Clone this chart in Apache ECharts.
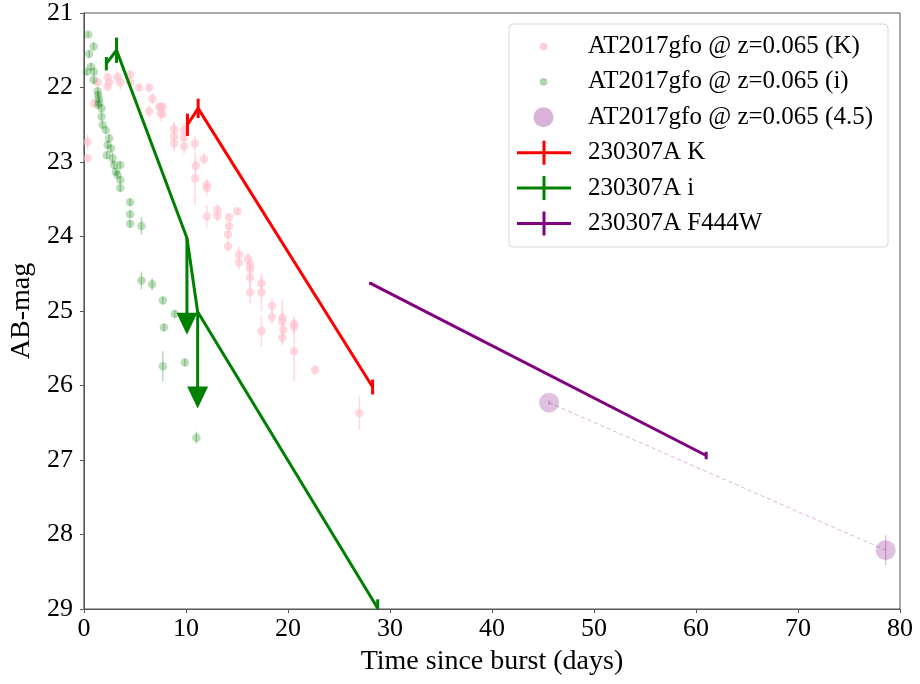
<!DOCTYPE html>
<html><head><meta charset="utf-8">
<script src="https://cdn.jsdelivr.net/npm/echarts@6/dist/echarts.min.js"></script>
<style>html,body{margin:0;padding:0;background:#fff}#c{width:920px;height:684px}</style>
</head><body><div id="c"></div>
<script>
// ---------- data ----------
const xTicks = [0, 10, 20, 30, 40, 50, 60, 70, 80];
const yTicks = [21, 22, 23, 24, 25, 26, 27, 28, 29];

// AT2017gfo @ z=0.065 (K)
const kDays = [0.36,0.36,1.0,1.34,2.32,2.48,2.32,3.29,3.56,4.53,4.53,5.42,6.40,6.72,6.40,7.38,7.54,7.70,7.54,7.70,8.85,8.85,8.85,9.82,9.82,9.82,10.9,10.97,10.9,11.78,12.05,12.05,12.05,13.09,13.09,14.23,14.23,14.13,14.13,15.04,15.2,15.2,16.09,16.29,16.29,16.29,16.29,17.4,17.4,17.4,18.44,18.44,19.45,19.45,19.55,19.45,20.6,20.6,20.6,22.65,27.0];
const kMag  = [22.73,22.95,22.21,21.93,21.86,21.93,21.99,21.86,21.93,21.83,21.93,22.0,22.0,22.15,22.32,22.26,22.26,22.26,22.35,22.36,22.56,22.66,22.75,22.57,22.67,22.79,22.75,23.05,23.22,22.96,23.31,23.35,23.73,23.64,23.72,23.74,23.86,23.97,24.13,23.66,24.24,24.35,24.30,24.38,24.44,24.55,24.75,24.63,24.75,25.27,24.93,25.08,25.09,25.14,25.25,25.36,25.17,25.21,25.54,25.79,26.37];
const kErr  = [0.1,0.05,0.05,0.05,0.05,0.05,0.05,0.08,0.1,0.05,0.05,0.05,0.05,0.08,0.08,0.05,0.05,0.05,0.1,0.05,0.08,0.2,0.05,0.1,0.05,0.1,0.1,0.1,0.35,0.08,0.08,0.1,0.15,0.08,0.08,0.05,0.05,0.08,0.08,0.05,0.1,0.1,0.08,0.08,0.1,0.15,0.15,0.1,0.25,0.2,0.1,0.1,0.1,0.3,0.1,0.1,0.1,0.1,0.4,0.07,0.22];

// AT2017gfo @ z=0.065 (i)
const iDays = [0.42,0.95,0.52,0.69,0.29,0.99,0.95,1.35,1.4,1.45,1.5,1.4,1.73,1.73,1.83,2.15,2.48,2.32,2.64,2.25,2.81,2.97,3.56,3.13,3.29,3.56,3.56,4.53,4.53,4.53,5.64,5.64,6.69,7.74,8.91,7.84,7.74,9.89,11.03];
const iMag  = [21.29,21.45,21.55,21.72,21.79,21.79,21.9,22.05,22.1,22.15,22.2,22.23,22.28,22.39,22.5,22.57,22.68,22.77,22.82,22.91,22.95,23.04,23.04,23.13,23.17,23.24,23.35,23.54,23.70,23.83,23.86,24.59,24.64,24.86,25.04,25.22,25.74,25.69,26.70];
const iErr  = [0.03,0.05,0.05,0.05,0.04,0.05,0.05,0.05,0.05,0.05,0.05,0.05,0.05,0.05,0.05,0.05,0.05,0.05,0.05,0.05,0.08,0.05,0.05,0.05,0.05,0.05,0.05,0.05,0.05,0.05,0.12,0.12,0.08,0.05,0.05,0.05,0.2,0.05,0.08];

// AT2017gfo @ z=0.065 (4.5)
const f45Days = [45.6, 78.6];
const f45Mag  = [26.23, 28.21];
const f45Err  = [0.03, 0.2];

// 230307A K
const grbKDays = [10.15, 11.2, 28.3];
const grbKMag  = [22.5, 22.28, 26.02];
const grbKErr  = [0.15, 0.13, 0.1];

// 230307A i (limits: arrow length in mag, 0 = detection)
const grbIDays  = [2.2, 3.2, 10.1, 11.15, 28.8];
const grbIMag   = [21.68, 21.5, 24.02, 25.01, 28.99];
const grbIErr   = [0.09, 0.17, 0, 0, 0.12];
const grbILimit = [0, 0, 1.15, 1.15, 0];

// 230307A F444W
const grbFDays = [28.1, 61.0];
const grbFMag  = [24.63, 26.94];
const grbFErr  = [0.02, 0.05];

const seriesNames = ['AT2017gfo @ z=0.065 (K)','AT2017gfo @ z=0.065 (i)','AT2017gfo @ z=0.065 (4.5)','230307A K','230307A i','230307A F444W'];

// ---------- helpers ----------
const FONT = "'Liberation Serif','DejaVu Serif',serif";
function zip3(a,b,c){ return a.map((v,i)=>[v,b[i],c[i]]); }

function errBarSeries(name, data, color, width) {
  return {
    type: 'custom', name: name, clip: true, silent: true, z: 3,
    data: data,
    renderItem: function (params, api) {
      const x = api.value(0), y = api.value(1), e = api.value(2);
      if (!e) return null;
      const p0 = api.coord([x, y - e]), p1 = api.coord([x, y + e]);
      return { type: 'line', shape: { x1: p0[0], y1: p0[1], x2: p1[0], y2: p1[1] },
               style: { stroke: color, lineWidth: width } };
    }
  };
}

function limitSeries(name, data, color) {
  return {
    type: 'custom', name: name, clip: true, silent: true, z: 4,
    data: data,
    renderItem: function (params, api) {
      const x = api.value(0), y = api.value(1), len = api.value(2);
      if (!len) return null;
      const p0 = api.coord([x, y]), p1 = api.coord([x, y + len]);
      return { type: 'group', children: [
        { type: 'line', shape: { x1: p0[0], y1: p0[1], x2: p1[0], y2: p1[1] }, style: { stroke: color, lineWidth: 3 } },
        { type: 'polygon', shape: { points: [[p1[0]-10.5, p1[1]-11], [p1[0]+10.5, p1[1]-11], [p1[0], p1[1]+11]] }, style: { fill: color } }
      ]};
    }
  };
}

// ---------- legend (graphic) ----------
const legX = 509, legY = 24, legW = 379, legH = 223, rowY0 = 46.5, rowStep = 35.4;
const legChildren = [{ type: 'rect', shape: { x: legX, y: legY, width: legW, height: legH, r: 4 },
  style: { fill: 'rgba(255,255,255,0.85)', stroke: '#d6d6d6', lineWidth: 1 } }];
const legMarks = [
  { kind: 'dot', r: 3.8, color: 'rgba(255,192,203,0.8)' },
  { kind: 'dot', r: 3.8, color: 'rgba(0,128,0,0.32)' },
  { kind: 'dot', r: 10, color: 'rgba(128,0,128,0.3)' },
  { kind: 'cross', color: 'red' },
  { kind: 'cross', color: 'green' },
  { kind: 'cross', color: 'purple' }
];
seriesNames.forEach((nm, i) => {
  const cy = rowY0 + i * rowStep, m = legMarks[i];
  if (m.kind === 'dot') {
    legChildren.push({ type: 'circle', shape: { cx: 543.5, cy: cy, r: m.r }, style: { fill: m.color } });
  } else {
    legChildren.push({ type: 'line', shape: { x1: 517, y1: cy, x2: 571, y2: cy }, style: { stroke: m.color, lineWidth: 3 } });
    legChildren.push({ type: 'line', shape: { x1: 544, y1: cy - 12, x2: 544, y2: cy + 12 }, style: { stroke: m.color, lineWidth: 3 } });
  }
  legChildren.push({ type: 'text', x: 588, y: cy, style: { text: nm, fill: '#000', font: '25px ' + FONT, verticalAlign: 'middle', align: 'left' } });
});

// ---------- chart ----------
const chart = echarts.init(document.getElementById('c'), null, { renderer: 'canvas' });
const axisCommon = {
  axisLine: { show: true, onZero: false, lineStyle: { color: '#555', width: 1 } },
  axisTick: { show: true, inside: false, length: 4, lineStyle: { color: '#555' } },
  splitLine: { show: false },
  axisLabel: { color: '#000', fontFamily: FONT, fontSize: 26 },
  nameTextStyle: { color: '#000', fontFamily: FONT, fontSize: 28 }
};
chart.setOption({
  animation: false,
  backgroundColor: '#fff',
  grid: { left: 83, right: 20, top: 11, bottom: 75, show: true, borderColor: '#555', borderWidth: 1, containLabel: false },
  xAxis: Object.assign({}, axisCommon, {
    type: 'value', min: xTicks[0], max: xTicks[xTicks.length-1], interval: 10,
    name: 'Time since burst (days)', nameLocation: 'middle', nameGap: 39,
    axisLabel: Object.assign({}, axisCommon.axisLabel, { margin: 7 })
  }),
  yAxis: Object.assign({}, axisCommon, {
    type: 'value', inverse: true, min: yTicks[0], max: yTicks[yTicks.length-1], interval: 1,
    name: 'AB-mag', nameLocation: 'middle', nameGap: 47,
    axisLabel: Object.assign({}, axisCommon.axisLabel, { margin: 11 })
  }),
  graphic: [{ type: 'group', z: 100, children: legChildren }],
  series: [
    // AT2017gfo K
    errBarSeries(seriesNames[0], zip3(kDays, kMag, kErr), 'rgba(255,192,203,0.6)', 1.5),
    { type: 'scatter', name: seriesNames[0], data: kDays.map((d,i)=>[d,kMag[i]]), symbolSize: 8.5,
      itemStyle: { color: 'rgba(255,192,203,0.75)' }, z: 2, silent: true },
    // AT2017gfo i
    errBarSeries(seriesNames[1], zip3(iDays, iMag, iErr), 'rgba(0,128,0,0.3)', 1.5),
    { type: 'scatter', name: seriesNames[1], data: iDays.map((d,i)=>[d,iMag[i]]), symbolSize: 8.5,
      itemStyle: { color: 'rgba(0,128,0,0.32)' }, z: 2, silent: true },
    // AT2017gfo 4.5
    { type: 'line', name: seriesNames[2] + ' link', data: f45Days.map((d,i)=>[d,f45Mag[i]]), symbol: 'none',
      lineStyle: { color: 'rgba(128,0,128,0.3)', width: 1, type: [4, 3] }, z: 2, silent: true },
    errBarSeries(seriesNames[2], zip3(f45Days, f45Mag, f45Err), 'rgba(128,0,128,0.3)', 1.2),
    { type: 'scatter', name: seriesNames[2], data: f45Days.map((d,i)=>[d,f45Mag[i]]), symbolSize: 20,
      itemStyle: { color: 'rgba(128,0,128,0.3)' }, z: 2, silent: true },
    // 230307A K
    { type: 'line', name: seriesNames[3], data: grbKDays.map((d,i)=>[d,grbKMag[i]]), symbol: 'none',
      lineStyle: { color: 'red', width: 3 }, z: 5, silent: true },
    errBarSeries(seriesNames[3], zip3(grbKDays, grbKMag, grbKErr), 'red', 3),
    // 230307A i
    { type: 'line', name: seriesNames[4], data: grbIDays.map((d,i)=>[d,grbIMag[i]]), symbol: 'none',
      lineStyle: { color: 'green', width: 3 }, z: 5, silent: true },
    errBarSeries(seriesNames[4], zip3(grbIDays, grbIMag, grbIErr), 'green', 3),
    limitSeries(seriesNames[4], zip3(grbIDays, grbIMag, grbILimit), 'green'),
    // 230307A F444W
    { type: 'line', name: seriesNames[5], data: grbFDays.map((d,i)=>[d,grbFMag[i]]), symbol: 'none',
      lineStyle: { color: 'purple', width: 3 }, z: 5, silent: true },
    errBarSeries(seriesNames[5], zip3(grbFDays, grbFMag, grbFErr), 'purple', 3)
  ]
});
</script>
</body></html>
